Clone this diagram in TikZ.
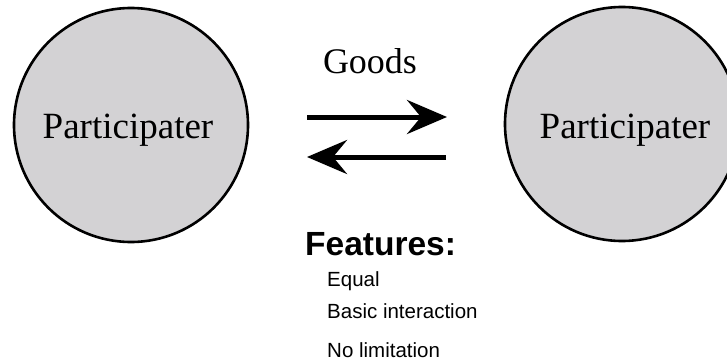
\documentclass[tikz,border=0pt]{standalone}
\usepackage{fontspec}
\setmainfont{Liberation Serif}
\newfontfamily\arialfont{Liberation Sans}
\usetikzlibrary{arrows.meta}
\definecolor{circgray}{RGB}{211,210,212}
\begin{document}
\begin{tikzpicture}[x=1pt,y=-1pt,
  part/.style={circle,draw=black,line width=2.6pt,fill=circgray,minimum size=234pt,inner sep=0pt},
  ptext/.style={anchor=base,font=\fontsize{37}{40}\selectfont},
  flow/.style={line width=5pt,-{Stealth[length=40pt,width=34pt,inset=14pt]}},
  feat/.style={anchor=base west,font=\arialfont\fontsize{20.5}{24}\selectfont,inner sep=0pt}]
\useasboundingbox (0,0) rectangle (727,361);
\clip (0,0) rectangle (727,361);
\node[part] (L) at (131,125) {};
\node[part] (R) at (622,124) {};
\node[ptext] (Lt) at (128,138) {Participater};
\node[ptext] (Rt) at (625,138) {Participater};
\node[anchor=base,font=\fontsize{36}{40}\selectfont] (goods) at (370,73) {Goods};
\coordinate (a1s) at (307,117);
\coordinate (a1e) at (447,117);
\coordinate (a2s) at (446,157);
\coordinate (a2e) at (307,157);
\draw[flow] (a1s) -- (a1e);
\draw[flow] (a2s) -- (a2e);
\node[anchor=base west,inner sep=0pt,font=\arialfont\bfseries\fontsize{33.5}{40}\selectfont] (feat) at (305,255) {Features:};
\node[feat] (f1) at (327,286) {Equal};
\node[feat] (f2) at (327,318) {Basic interaction};
\node[feat] (f3) at (327,357) {No limitation};
\end{tikzpicture}
\end{document}
